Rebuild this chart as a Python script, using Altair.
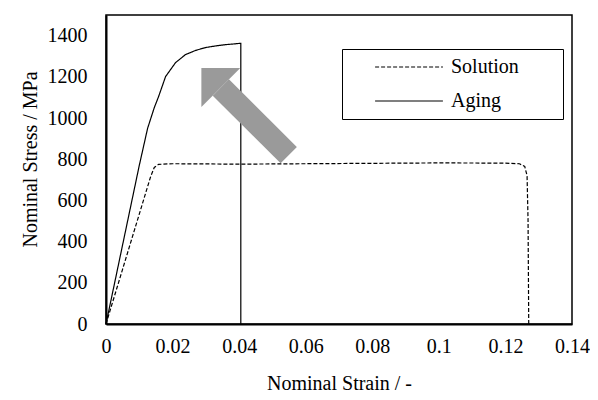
import altair as alt
import pandas as pd

# ---- data ----
aging_strain = [0.0, 0.005, 0.010, 0.0125, 0.0145, 0.0158, 0.0179, 0.0209, 0.0239, 0.0269, 0.0299, 0.0330, 0.0358, 0.0380, 0.0400, 0.0405, 0.0405]
aging_stress = [0, 385, 770, 950, 1050, 1104, 1201, 1269, 1308, 1328, 1342, 1350, 1356, 1359, 1362, 1362, 0]

solution_strain = [0.0, 0.0134, 0.0145, 0.0158, 0.020, 0.040, 0.060, 0.080, 0.100, 0.120, 0.1242, 0.1258, 0.1265, 0.1268, 0.1270]
solution_stress = [0, 715, 760, 775, 778, 776, 778, 780, 782, 781, 778, 765, 720, 500, 0]

series_names = ["Solution", "Aging"]

arrow_x = [0.0549, 0.0345]
arrow_y = [820, 1148]

x_ticks = [0, 0.02, 0.04, 0.06, 0.08, 0.10, 0.12, 0.14]
y_ticks = [0, 200, 400, 600, 800, 1000, 1200, 1400]

FONT = "Liberation Serif"
FS = 20

rows = []
for i, (x, y) in enumerate(zip(solution_strain, solution_stress)):
    rows.append({"series": "Solution", "strain": x, "stress": y, "idx": i})
for i, (x, y) in enumerate(zip(aging_strain, aging_stress)):
    rows.append({"series": "Aging", "strain": x, "stress": y, "idx": i})
df = pd.DataFrame(rows)

xscale = alt.Scale(domain=[0, 0.14], nice=False, zero=False)
yscale = alt.Scale(domain=[0, 1500], nice=False)

SPACER = "\u2800" * 2  # blank glyphs that widen the legend frame on the right

lines = alt.Chart(df).mark_line(color="black", strokeWidth=1.2).encode(
    x=alt.X("strain:Q", scale=xscale,
            axis=alt.Axis(values=x_ticks, format=".2~f", title="Nominal Strain / -",
                          labelPadding=12, titlePadding=17, labelFlush=False)),
    y=alt.Y("stress:Q", scale=yscale,
            axis=alt.Axis(values=y_ticks, format="d", title="Nominal Stress / MPa",
                          labelPadding=19, titlePadding=7, titleY=144, labelFlush=False)),
    strokeDash=alt.StrokeDash(
        "series:N",
        scale=alt.Scale(domain=series_names, range=[[4, 2], [1, 0]]),
        legend=alt.Legend(
            title=SPACER, titleOrient="right", titleFontSize=FS,
            titlePadding=6, titleOpacity=0,
            orient="none", legendX=236, legendY=34,
            symbolType="stroke", symbolSize=4600, symbolStrokeColor="black",
            symbolStrokeWidth=1.2, labelFontSize=FS, labelFont=FONT,
            labelColor="black", padding=8, symbolOffset=24, rowPadding=14,
            clipHeight=20, labelOffset=7,
            strokeColor="black", fillColor="white",
        ),
    ),
    order="idx:Q",
)

arrow_df = pd.DataFrame({"x": [arrow_x[0]], "y": [arrow_y[0]], "x2": [arrow_x[1]], "y2": [arrow_y[1]]})
shaft = alt.Chart(arrow_df).mark_rule(color="#9a9a9a", strokeWidth=23, strokeCap="butt").encode(
    x="x:Q", y="y:Q", x2="x2:Q", y2="y2:Q"
)
head_df = pd.DataFrame({"x": [arrow_x[1]], "y": [arrow_y[1]]})
head = alt.Chart(head_df).mark_point(
    shape="M0,-1L1,0L-1,0Z", filled=True, color="#9a9a9a", opacity=1,
    size=3025, angle=315, strokeWidth=0
).encode(x="x:Q", y="y:Q")

chart = alt.layer(lines, shaft, head).properties(
    width=466, height=309,
    autosize=alt.AutoSizeParams(type="none"),
    padding={"left": 98, "top": 7, "right": 18, "bottom": 74},
).configure_view(
    stroke="black", strokeWidth=1.5
).configure_axis(
    grid=False, ticks=False, tickSize=0, domainColor="black", domainWidth=2,
    labelFont=FONT, labelFontSize=FS, labelColor="black",
    titleFont=FONT, titleFontSize=FS, titleFontWeight="normal", titleColor="black",
)

chart.save("out.html", embed_options={"renderer": "svg", "actions": False})
